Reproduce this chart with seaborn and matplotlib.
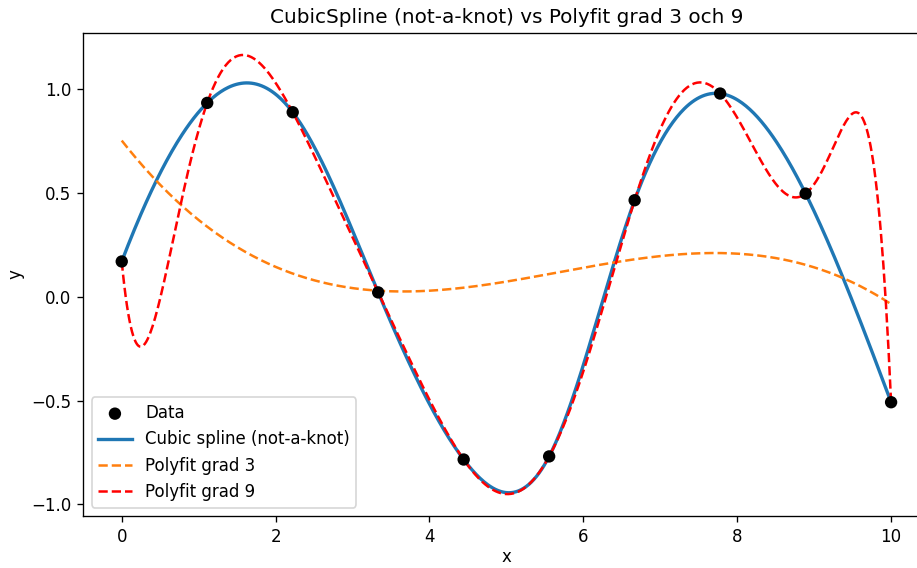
import numpy as np
import matplotlib
matplotlib.use("Agg")
import matplotlib.pyplot as plt
import seaborn as sns

# Measured samples
x_data = np.linspace(0, 10, 10)
y_data = [0.170, 0.934, 0.889, 0.021, -0.784, -0.769, 0.465, 0.979, 0.497, -0.508]


def not_a_knot_spline(x, y, xq):
    """Cubic spline with not-a-knot end conditions, evaluated at xq."""
    x = np.asarray(x, float)
    y = np.asarray(y, float)
    n = len(x)
    h = np.diff(x)
    d = np.diff(y) / h
    A = np.zeros((n, n))
    b = np.zeros(n)
    # third derivative continuous at x[1] and x[n-2]
    A[0, 0], A[0, 1], A[0, 2] = -1 / h[0], 1 / h[0] + 1 / h[1], -1 / h[1]
    A[-1, -3], A[-1, -2], A[-1, -1] = -1 / h[-2], 1 / h[-2] + 1 / h[-1], -1 / h[-1]
    for i in range(1, n - 1):
        A[i, i - 1] = h[i - 1]
        A[i, i] = 2 * (h[i - 1] + h[i])
        A[i, i + 1] = h[i]
        b[i] = 6 * (d[i] - d[i - 1])
    M = np.linalg.solve(A, b)
    idx = np.clip(np.searchsorted(x, xq) - 1, 0, n - 2)
    hi = h[idx]
    t0 = x[idx + 1] - xq
    t1 = xq - x[idx]
    return (M[idx] * t0**3 / (6 * hi) + M[idx + 1] * t1**3 / (6 * hi)
            + (y[idx] / hi - M[idx] * hi / 6) * t0
            + (y[idx + 1] / hi - M[idx + 1] * hi / 6) * t1)


xx = np.linspace(0, 10, 600)
y_spline = not_a_knot_spline(x_data, y_data, xx)
y_p3 = np.polyval(np.polyfit(x_data, y_data, 3), xx)
y_p9 = np.polyval(np.polyfit(x_data, y_data, 9), xx)

fig = plt.figure(figsize=(917 / 120, 568 / 120), dpi=120)
ax = fig.add_axes([0.0908, 0.0915, 0.9229, 0.8504])

sns.scatterplot(x=x_data, y=y_data, color="black", s=55, edgecolor="none",
                label="Data", zorder=5, ax=ax)
sns.lineplot(x=xx, y=y_spline, color="C0", linewidth=2,
             label="Cubic spline (not-a-knot)", sort=False, ax=ax)
sns.lineplot(x=xx, y=y_p3, color="C1", linestyle="--", linewidth=1.5,
             label="Polyfit grad 3", sort=False, ax=ax)
sns.lineplot(x=xx, y=y_p9, color="red", linestyle="--", linewidth=1.5,
             label="Polyfit grad 9", sort=False, ax=ax)

ax.set_title("CubicSpline (not-a-knot) vs Polyfit grad 3 och 9")
ax.set_xlabel("x", labelpad=1.5)
ax.set_ylabel("y")
ax.legend(loc="lower left")

fig.savefig("out.png", dpi=120)
